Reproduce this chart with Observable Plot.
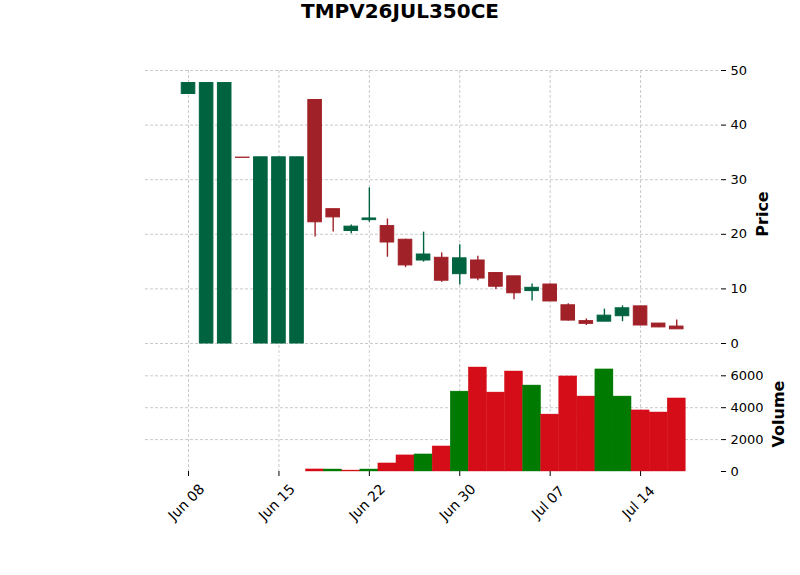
<!DOCTYPE html>
<html><head><meta charset="utf-8">
<script src="https://cdn.jsdelivr.net/npm/d3@7"></script>
<script src="https://cdn.jsdelivr.net/npm/@observablehq/plot@0.6"></script>
<style>
body{margin:0;background:#fff;font-family:"DejaVu Sans",sans-serif}
#wrap{position:relative;width:800px;height:575px;overflow:hidden;background:#fff}
#wrap svg{position:absolute;left:0;top:0;background:transparent}
.lab{position:absolute;font-weight:bold;font-size:16px;white-space:nowrap;transform:translate(-50%,-50%) rotate(-90deg)}
#title{position:absolute;left:0;width:800px;top:0;text-align:center;font-weight:bold;font-size:20px;line-height:22px}
</style></head><body>
<div id="wrap">
<div id="title">TMPV26JUL350CE</div>
<div class="lab" style="left:762px;top:214px">Price</div>
<div class="lab" style="left:778px;top:414px">Volume</div>
</div>
<script>
const dates = ["Jun 08","Jun 09","Jun 10","Jun 11","Jun 12","Jun 15","Jun 16","Jun 17","Jun 18","Jun 19",
  "Jun 22","Jun 23","Jun 24","Jun 25","Jun 26","Jun 30","Jul 01","Jul 02","Jul 03","Jul 06",
  "Jul 07","Jul 08","Jul 09","Jul 10","Jul 13","Jul 14","Jul 15","Jul 16"];
const opens  = [45.7, 0, 0, 34.05, 0, 0, 0, 44.6, 24.6, 20.6, 22.6, 21.5, 19.0, 15.2, 15.7, 12.7, 15.2, 12.9, 12.3, 9.6, 10.8, 7.0, 4.1, 4.0, 5.0, 6.8, 3.65, 3.1];
const highs  = [47.7, 47.7, 47.7, 34.05, 34.1, 34.1, 34.1, 44.6, 24.6, 21.7, 28.5, 22.8, 19.1, 20.4, 16.6, 18.1, 16.0, 12.9, 12.3, 10.9, 10.9, 7.3, 4.5, 6.3, 6.9, 6.8, 3.65, 4.3];
const lows   = [45.7, 0, 0, 34.0, 0, 0, 0, 19.5, 20.4, 20.1, 22.2, 15.8, 13.9, 14.9, 11.2, 10.7, 11.5, 9.9, 8.0, 7.8, 7.7, 4.1, 3.3, 4.0, 4.0, 3.3, 2.9, 2.6];
const closes = [47.7, 47.7, 47.7, 34.0, 34.1, 34.1, 34.1, 22.2, 23.1, 21.4, 22.9, 18.5, 14.3, 16.3, 11.5, 15.6, 11.9, 10.4, 9.2, 10.2, 7.7, 4.2, 3.6, 5.1, 6.45, 3.3, 2.95, 2.6];
const volumes = [0, 0, 0, 0, 0, 0, 0, 130, 125, 60, 125, 505, 1010, 1070, 1570, 5010, 6520, 4950, 6270, 5390, 3570, 5960, 4700, 6400, 4700, 3830, 3700, 4580];
const xTickLabels = ["Jun 08","Jun 15","Jun 22","Jun 30","Jul 07","Jul 14"];
const priceTicks = [0, 10, 20, 30, 40, 50];
const volumeTicks = [0, 2000, 4000, 6000];

const UP = "#006340", DOWN = "#A02128", VUP = "#007a00", VDOWN = "#d50d18";
const GRID = "#bdbdbd";
const rows = dates.map((d, i) => ({
  i, date: d, o: opens[i], h: highs[i], l: lows[i], c: closes[i], v: volumes[i],
  col: closes[i] >= opens[i] ? UP : DOWN,
  vcol: i > 0 && closes[i] < closes[i - 1] ? VDOWN : VUP
}));
const xTickIdx = xTickLabels.map(l => dates.indexOf(l));
const xDomain = [-2.38, 29.42];
const common = {width: 800, height: 575, marginLeft: 145, marginRight: 80,
  style: {background: "transparent", fontFamily: "DejaVu Sans, sans-serif", fontSize: "12px", color: "#000"}};

const price = Plot.plot({
  ...common,
  marginTop: 70, marginBottom: 575 - 356,
  x: {domain: xDomain, axis: null},
  y: {domain: [-2.38, 50], axis: null},
  marks: [
    Plot.ruleY(priceTicks, {y: d => d, stroke: GRID, strokeWidth: 0.8, strokeDasharray: "3,2"}),
    Plot.ruleX(xTickIdx, {x: d => d, stroke: GRID, strokeWidth: 0.8, strokeDasharray: "3,2"}),
    Plot.axisY({anchor: "right", ticks: priceTicks, tickSize: 5, tickPadding: 5, label: null, fontSize: 13, tickFormat: d => String(d)}),
    Plot.ruleX(rows, {x: "i", y1: "l", y2: "h", stroke: "col", strokeWidth: 1.4}),
    Plot.rect(rows, {x1: d => d.i - 0.375, x2: d => d.i + 0.375,
      y1: d => Math.min(d.o, d.c), y2: d => Math.max(d.o, d.c),
      fill: "col", stroke: "col", strokeWidth: 1})
  ]
});

const vol = Plot.plot({
  ...common,
  marginTop: 359, marginBottom: 575 - 471,
  x: {domain: xDomain, axis: null},
  y: {domain: [0, 7022], axis: null},
  marks: [
    Plot.ruleY(volumeTicks.slice(1), {y: d => d, stroke: GRID, strokeWidth: 0.8, strokeDasharray: "3,2"}),
    Plot.ruleX(xTickIdx, {x: d => d, stroke: GRID, strokeWidth: 0.8, strokeDasharray: "3,2"}),
    Plot.axisY({anchor: "right", ticks: volumeTicks, tickSize: 5, tickPadding: 5, label: null, fontSize: 13, tickFormat: d => String(d)}),
    Plot.axisX({ticks: xTickIdx, tickSize: 5, tickFormat: () => "", label: null}),
    Plot.rect(rows.filter(d => d.v > 0), {x1: d => d.i - 0.5, x2: d => d.i + 0.5, y1: 0, y2: "v",
      fill: "vcol", stroke: "vcol", strokeWidth: 0.4}),
    Plot.text(xTickIdx, {x: d => d, y: 0, text: (d, j) => xTickLabels[j], rotate: -45,
      textAnchor: "middle", lineAnchor: "middle", dx: -2, dy: 31, fontSize: 14, fill: "#000"})
  ]
});

const wrap = document.getElementById("wrap");
wrap.insertBefore(vol, wrap.firstChild);
wrap.insertBefore(price, wrap.firstChild);
</script>
</body></html>
